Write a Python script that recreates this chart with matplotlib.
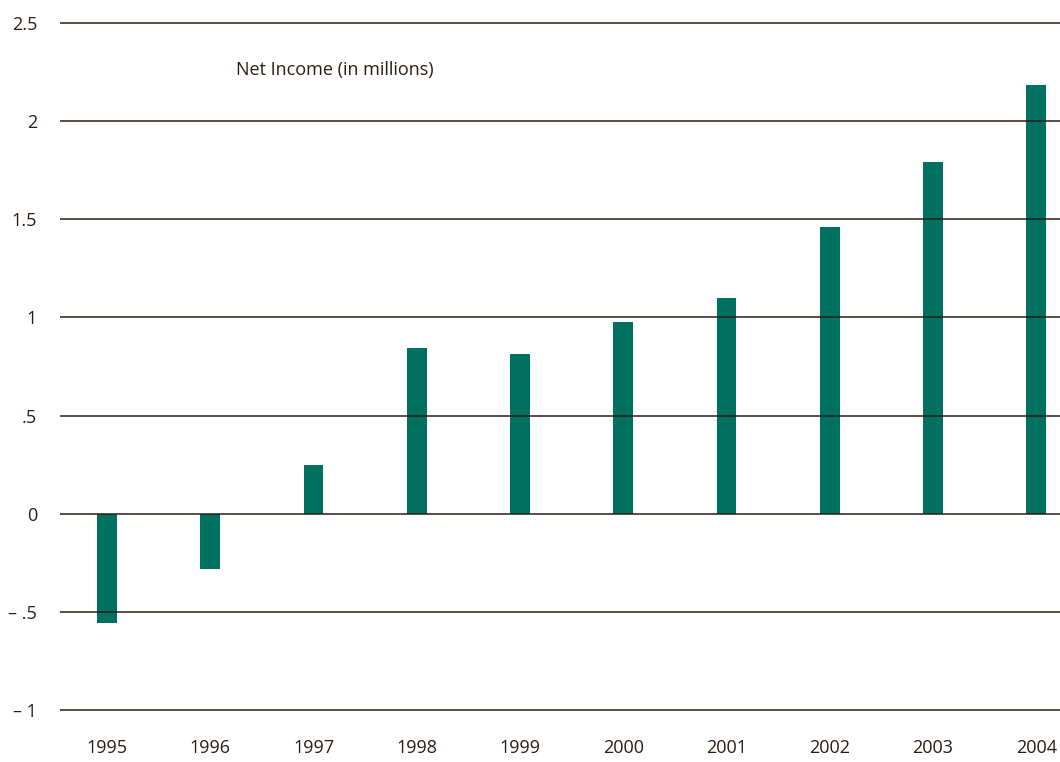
import matplotlib
matplotlib.use("Agg")
import matplotlib.pyplot as plt

years = ["1995", "1996", "1997", "1998", "1999", "2000", "2001", "2002", "2003", "2004"]
net_income = [-0.558, -0.284, 0.25, 0.846, 0.815, 0.978, 1.10, 1.462, 1.793, 2.185]
ytick_values = [-1, -0.5, 0, 0.5, 1, 1.5, 2, 2.5]
ytick_labels = ["– 1", "– .5", "0", ".5", "1", "1.5", "2", "2.5"]

bar_color = "#007160"
text_color = "#2b1d16"

plt.rcParams["font.family"] = ["Open Sans", "DejaVu Sans"]

fig = plt.figure(figsize=(10.6, 7.62), dpi=100)
ax = fig.add_axes([60 / 1060, 0.0554, 1 - 60 / 1060, 0.9273])

x = list(range(len(years)))
ax.bar(x, net_income, width=0.19, color=bar_color, zorder=2)

# horizontal rules sit on top of the bars
ax.hlines(ytick_values, -0.455, 9.23, color=text_color, linewidth=1.1, zorder=3)

ax.set_xlim(-0.455, 9.23)
ax.set_ylim(-1.05, 2.55)

ax.set_yticks(ytick_values)
ax.set_yticklabels(ytick_labels)
ax.set_xticks(x)
ax.set_xticklabels(years)
ax.tick_params(axis="both", length=0, labelsize=13, labelcolor=text_color)
ax.tick_params(axis="y", pad=16.5)
ax.tick_params(axis="x", pad=14)

for s in ax.spines.values():
    s.set_visible(False)

ax.text(1.25, 2.26, "Net Income (in millions)", fontsize=13, color=text_color,
        ha="left", va="center")

fig.savefig("out.png", dpi=100)
